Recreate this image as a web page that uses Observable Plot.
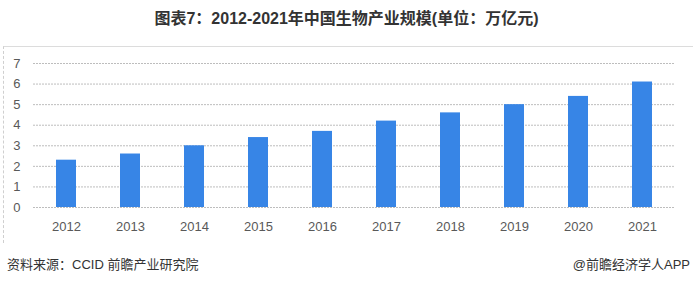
<!DOCTYPE html>
<html>
<head>
<meta charset="utf-8">
<script src="https://cdn.jsdelivr.net/npm/d3@7"></script>
<script src="https://cdn.jsdelivr.net/npm/@observablehq/plot@0.6"></script>
<style>
  html, body { margin: 0; padding: 0; background: #fff; }
  body { width: 693px; height: 287px; position: relative; overflow: hidden;
         font-family: "Liberation Sans", "Noto Sans CJK SC", sans-serif; }
  #title { position: absolute; left: 0; top: 9px; width: 693px; text-align: center;
           font-size: 16px; font-weight: bold; color: #333; line-height: 20px; }
  #frame { position: absolute; left: 3px; top: 46px; width: 690px; height: 197px;
           border-top: 1px solid #dcdcdc; border-left: 1px dashed #cfcfcf; box-sizing: border-box; }
  #chart { position: absolute; left: 0; top: 46px; }
  #source { position: absolute; left: 7px; top: 257px; font-size: 13px; color: #333; line-height: 16px; }
  #brand { position: absolute; right: 3px; top: 257px; font-size: 13px; color: #333; line-height: 16px; }
</style>
</head>
<body>
<div id="title">图表7：2012-2021年中国生物产业规模(单位：万亿元)</div>
<div id="frame"></div>
<div id="chart"></div>
<div id="source">资料来源：CCID 前瞻产业研究院</div>
<div id="brand">@前瞻经济学人APP</div>
<script>
const years = ["2012","2013","2014","2015","2016","2017","2018","2019","2020","2021"];
const values = [2.3, 2.6, 3.0, 3.4, 3.7, 4.2, 4.6, 5.0, 5.4, 6.1];
const yTicks = [0, 1, 2, 3, 4, 5, 6, 7];

const data = years.map((y, i) => ({year: y, value: values[i]}));

const chart = Plot.plot({
  width: 693,
  height: 197,
  marginTop: 17,
  marginBottom: 36,
  marginLeft: 33,
  marginRight: 18,
  style: {fontFamily: "Liberation Sans, sans-serif", fontSize: "13px", color: "#595959", background: "transparent"},
  x: {domain: years, paddingInner: 0.69, paddingOuter: 0.345, label: null, tickSize: 0, tickPadding: 14},
  y: {domain: [0, 7], ticks: yTicks, label: null, tickSize: 0, tickPadding: 13, tickFormat: d => d},
  marks: [
    Plot.gridY(yTicks, {stroke: "#bdbdbd", strokeOpacity: 1, strokeDasharray: "2,1"}),
    Plot.barY(data, {x: "year", y: "value", fill: "#3785e6"})
  ]
});
document.getElementById("chart").appendChild(chart);
</script>
</body>
</html>
